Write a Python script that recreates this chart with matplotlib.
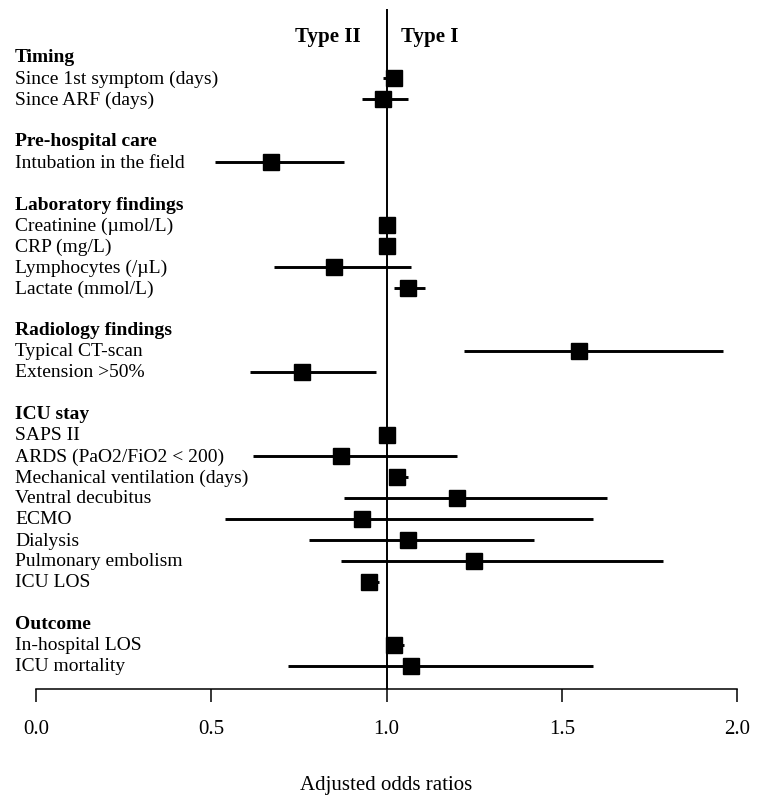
import numpy as np
import matplotlib
matplotlib.use('Agg')
import matplotlib.pyplot as plt
import matplotlib.transforms as mtransforms

plt.rcParams['font.family'] = ['Liberation Serif', 'DejaVu Serif']

# rows from top to bottom; None in the odds ratio means a group header or a blank line
labels = ['Timing', 'Since 1st symptom (days)', 'Since ARF (days)', '',
          'Pre-hospital care', 'Intubation in the field', '',
          'Laboratory findings', 'Creatinine (\u00b5mol/L)', 'CRP (mg/L)',
          'Lymphocytes (/\u00b5L)', 'Lactate (mmol/L)', '',
          'Radiology findings', 'Typical CT-scan', 'Extension >50%', '',
          'ICU stay', 'SAPS II', 'ARDS (PaO2/FiO2 < 200)', 'Mechanical ventilation (days)',
          'Ventral decubitus', 'ECMO', 'Dialysis', 'Pulmonary embolism', 'ICU LOS', '',
          'Outcome', 'In-hospital LOS', 'ICU mortality']
headers = ['Timing', 'Pre-hospital care', 'Laboratory findings', 'Radiology findings',
           'ICU stay', 'Outcome']

odds = [None, 1.02, 0.99, None,
        None, 0.67, None,
        None, 1.00, 1.00, 0.85, 1.06, None,
        None, 1.55, 0.76, None,
        None, 1.00, 0.87, 1.03, 1.20, 0.93, 1.06, 1.25, 0.95, None,
        None, 1.02, 1.07]
ci_low = [None, 0.99, 0.93, None,
          None, 0.51, None,
          None, 0.999, 0.999, 0.68, 1.02, None,
          None, 1.22, 0.61, None,
          None, 0.999, 0.62, 1.01, 0.88, 0.54, 0.78, 0.87, 0.93, None,
          None, 1.00, 0.72]
ci_high = [None, 1.03, 1.06, None,
           None, 0.88, None,
           None, 1.001, 1.001, 1.07, 1.11, None,
           None, 1.96, 0.97, None,
           None, 1.001, 1.20, 1.06, 1.63, 1.59, 1.42, 1.79, 0.98, None,
           None, 1.05, 1.59]

W, H = 759, 803
fig = plt.figure(figsize=(W / 100, H / 100), dpi=100)
# axes placed in pixels: x 0..2 from 36 to 737, top at 10, axis line at 690
ax = fig.add_axes([36 / W, 1 - 690 / H, (737 - 36) / W, (690 - 10) / H])

row_top, row_step = 58, 21
ax.set_ylim((690 - row_top) / row_step, (10 - row_top) / row_step)
ax.set_xlim(0, 2)

for i in range(len(labels)):
    if odds[i] is None:
        continue
    ax.plot([ci_low[i], ci_high[i]], [i, i], color='black', lw=2.1, solid_capstyle='butt')
    ax.plot(odds[i], i, marker='s', color='black', markersize=11, ls='none')

ax.axvline(1.0, color='black', lw=1.4)

trans = mtransforms.blended_transform_factory(fig.transFigure, ax.transData)
for i, lab in enumerate(labels):
    if lab == '':
        continue
    ax.text(15 / W, i, lab, transform=trans, ha='left', va='center', fontsize=14,
            fontweight='bold' if lab in headers else 'normal', clip_on=False)

ax.text(0.927, -1, 'Type II', ha='right', va='center', fontsize=15, fontweight='bold')
ax.text(1.041, -1, 'Type I', ha='left', va='center', fontsize=15, fontweight='bold')

for s in ['left', 'right', 'top']:
    ax.spines[s].set_visible(False)
ax.spines['bottom'].set_linewidth(1.1)
ax.set_yticks([])
ax.set_xticks([0.0, 0.5, 1.0, 1.5, 2.0])
ax.set_xticklabels(['0.0', '0.5', '1.0', '1.5', '2.0'], fontsize=15)
ax.tick_params(axis='x', direction='out', length=9.5, width=1.1, pad=12)
ax.set_xlabel('Adjusted odds ratios', fontsize=15, labelpad=27)

fig.savefig('out.png', dpi=100)
